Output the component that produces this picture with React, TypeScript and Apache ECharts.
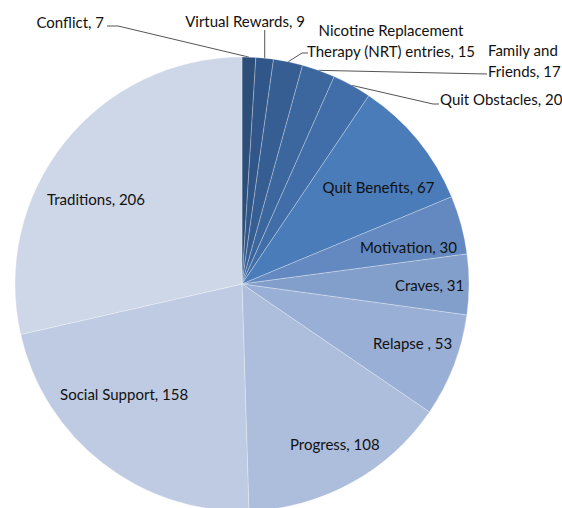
import React, { useEffect, useRef } from "react";
import * as echarts from "echarts";

const categories = [
  "Conflict",
  "Virtual Rewards",
  "Nicotine Replacement Therapy (NRT) entries",
  "Family and Friends",
  "Quit Obstacles",
  "Quit Benefits",
  "Motivation",
  "Craves",
  "Relapse ",
  "Progress",
  "Social Support",
  "Traditions",
];
const values = [7, 9, 15, 17, 20, 67, 30, 31, 53, 108, 158, 206];
const colors = [
  "#2c4e78",
  "#31578a",
  "#365e93",
  "#3b669e",
  "#416ea8",
  "#4a7cba",
  "#6389c0",
  "#829fcc",
  "#99afd5",
  "#adbddc",
  "#bfcbe3",
  "#ced7e8",
];
// which slices carry outside labels with leader lines
const outsideNames = [
  "Conflict",
  "Virtual Rewards",
  "Nicotine Replacement Therapy (NRT) entries",
  "Family and Friends",
  "Quit Obstacles",
];

const FONT = "Lato, 'Noto Sans', sans-serif";
const TEXT = "#111111";

function labelText(name: string, value: number): string {
  if (name.startsWith("Nicotine Replacement ")) {
    return "Nicotine Replacement\n" + name.replace("Nicotine Replacement ", "") + ", " + value;
  }
  if (name === "Family and Friends") return "Family and\nFriends, " + value;
  return name + ", " + value;
}

// label placement (styling) for outside labels
const outsideLayout: Record<string, any> = {
  Conflict: { x: 104, y: 22, align: "right", line: [[118, 26], [107, 26]] },
  "Virtual Rewards": { x: 245, y: 21, align: "center", line: "vertical", lineTop: 30 },
  "Nicotine Replacement Therapy (NRT) entries": {
    x: 391,
    y: 40,
    align: "center",
    line: [[302, 53], [308, 53]],
  },
  "Family and Friends": { x: 488, y: 60, align: "left", line: [[487, 74], [487, 74]] },
  "Quit Obstacles": { x: 440, y: 99, align: "left", line: [[433, 104], [439, 104]] },
};

// fine offsets (styling) for inside labels
const insideOffsets: Record<string, [number, number]> = {
  "Quit Benefits": [0, 15],
  Motivation: [-4, 9],
  Craves: [11, 1],
  "Relapse ": [6, -5],
  Progress: [8, 5],
  "Social Support": [-10, -30],
  Traditions: [-8, 25],
};

export default function App() {
  const ref = useRef<HTMLDivElement>(null);
  useEffect(() => {
    if (!ref.current) return;
    const chart = echarts.init(ref.current, undefined, { renderer: "svg" });
    const mainData = categories.map((name, i) => {
      const isOut = outsideNames.includes(name);
      return {
        name,
        value: values[i],
        itemStyle: { color: colors[i] },
        label: { show: isOut },
        labelLine: { show: isOut },
      };
    });
    const labelData = categories.map((name, i) => ({
      name,
      value: values[i],
      label: {
        show: !outsideNames.includes(name),
        offset: insideOffsets[name] || [0, 0],
      },
    }));
    chart.setOption({
      animation: false,
      backgroundColor: "#ffffff",
      series: [
        {
          type: "pie",
          center: [242, 284],
          radius: [0, 227],
          startAngle: 90,
          clockwise: true,
          avoidLabelOverlap: false,
          silent: true,
          itemStyle: { borderColor: "rgba(255,255,255,0.35)", borderWidth: 0.8 },
          label: {
            position: "outside",
            formatter: (p: any) => labelText(p.name, p.value),
            fontFamily: FONT,
            fontSize: 15,
            color: TEXT,
            lineHeight: 21,
          },
          labelLine: {
            show: true,
            lineStyle: { color: "#555555", width: 1 },
          },
          labelLayout: (params: any) => {
            const name = categories[params.dataIndex];
            const cfg = outsideLayout[name];
            if (!cfg) return {};
            const anchor = params.labelLinePoints ? params.labelLinePoints[0] : null;
            const out: any = {
              x: cfg.x,
              y: cfg.y,
              align: cfg.align,
              verticalAlign: "middle",
            };
            if (anchor) {
              if (cfg.line === "vertical") {
                out.labelLinePoints = [anchor, [anchor[0], cfg.lineTop], [anchor[0], cfg.lineTop]];
              } else {
                out.labelLinePoints = [anchor, cfg.line[0], cfg.line[1]];
              }
            }
            return out;
          },
          data: mainData,
        },
        {
          type: "pie",
          center: [242, 284],
          radius: [120, 227],
          startAngle: 90,
          clockwise: true,
          silent: true,
          avoidLabelOverlap: false,
          itemStyle: { color: "rgba(0,0,0,0)" },
          label: {
            position: "inside",
            formatter: (p: any) => labelText(p.name, p.value),
            fontFamily: FONT,
            fontSize: 15,
            color: TEXT,
          },
          labelLine: { show: false },
          data: labelData,
        },
      ],
    });
    return () => chart.dispose();
  }, []);
  return (
    <div
      ref={ref}
      style={{ position: "absolute", left: 0, top: 0, width: 562, height: 508 }}
    />
  );
}
